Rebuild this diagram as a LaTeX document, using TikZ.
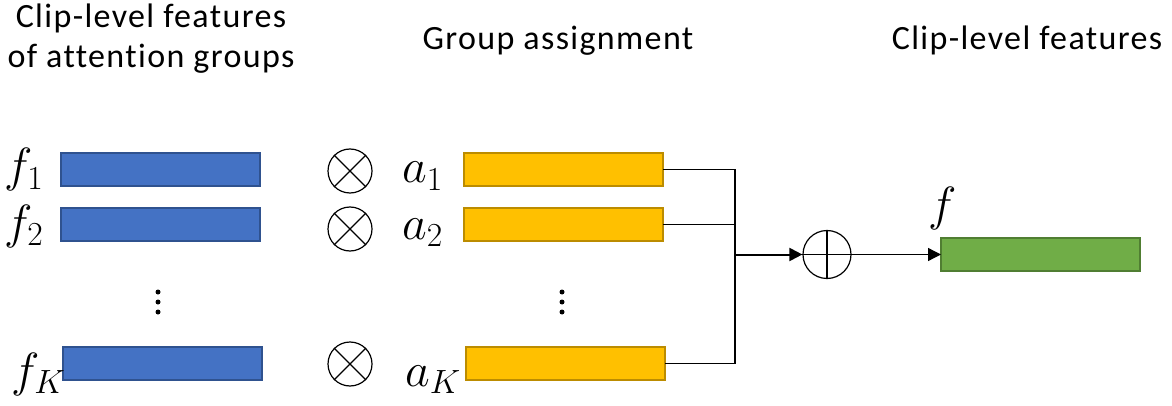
\RequirePackage{fix-cm}
\documentclass[tikz,border=0pt]{standalone}
\usepackage{fontspec}
\setmainfont{Carlito}[LetterSpace=4, Ligatures=NoCommon]
\usetikzlibrary{arrows.meta}
\definecolor{featblue}{RGB}{68,114,196}
\definecolor{featblueline}{RGB}{47,82,143}
\definecolor{asgyellow}{RGB}{255,192,0}
\definecolor{asgyellowline}{RGB}{188,140,0}
\definecolor{outgreen}{RGB}{112,173,71}
\definecolor{outgreenline}{RGB}{80,126,50}
\tikzset{
  x=1pt, y=-1pt,
  bar/.style={draw, line width=1.2pt, minimum width=199pt, minimum height=33pt,
    inner sep=0pt, outer sep=0pt, anchor=north west},
  bluebar/.style={bar, fill=featblue, draw=featblueline},
  yellowbar/.style={bar, fill=asgyellow, draw=asgyellowline},
  greenbar/.style={bar, fill=outgreen, draw=outgreenline},
  header/.style={font=\fontsize{34}{40}\selectfont, align=center, inner sep=0pt},
  mathlbl/.style={font=\fontsize{48}{56}\selectfont, inner sep=0pt},
  opcircle/.style={circle, draw, line width=1.2pt, minimum size=44pt, inner sep=0pt},
  wire/.style={line width=1.3pt},
  vdot/.style={circle, fill, inner sep=0pt, minimum size=5pt},
  tip/.style={-{Triangle[length=13pt,width=13pt]}}
}
\begin{document}
\begin{tikzpicture}
\useasboundingbox (0,0) rectangle (1172,406);

% column headers
\node[header, anchor=base] (h1a) at (151,28) {Clip-level features};
\node[header, anchor=base] (h1b) at (151,68) {of attention groups};
\node[header, anchor=base] (h2) at (558,50) {Group assignment};
\node[header, anchor=base] (h3) at (1027,50) {Clip-level features};

% clip-level features of the attention groups
\node[bluebar] (b1) at (61,153) {};
\node[bluebar] (b2) at (61,208) {};
\node[bluebar] (bK) at (63,347) {};
\node[mathlbl, anchor=base west] (lf1) at (4,182) {$f_1$};
\node[mathlbl, anchor=base west] (lf2) at (4,238) {$f_2$};
\node[mathlbl, anchor=base west] (lfK) at (11,386) {$f_K$};

% vertical ellipses
\node[vdot] (d1) at (158,292) {};
\node[vdot] (d2) at (158,302) {};
\node[vdot] (d3) at (158,312) {};
\node[vdot] (e1) at (562,292) {};
\node[vdot] (e2) at (562,302) {};
\node[vdot] (e3) at (562,312) {};

% multiplication operators
\foreach \n/\yy in {1/171, 2/229, K/364}{
  \node[opcircle] (m\n) at (350,\yy) {};
  \draw[line width=1.2pt] (m\n.north west) -- (m\n.south east)
                          (m\n.north east) -- (m\n.south west);
}

% group assignment weights
\node[yellowbar] (y1) at (464,153) {};
\node[yellowbar] (y2) at (464,208) {};
\node[yellowbar] (yK) at (466,347) {};
\node[mathlbl, anchor=base west] (la1) at (402,183) {$a_1$};
\node[mathlbl, anchor=base west] (la2) at (402,239) {$a_2$};
\node[mathlbl, anchor=base west] (laK) at (405,386) {$a_K$};

% summation
\node[opcircle, minimum size=48pt] (sum) at (827,254.5) {};
\draw[line width=1.2pt] (sum.north) -- (sum.south) (sum.west) -- (sum.east);
\coordinate (jm) at (735,254.5);
\draw[wire] (y1.east) -| (jm);
\draw[wire] (y2.east) -| (jm);
\draw[wire] (yK.east) -| (jm);
\draw[wire, line width=2pt, tip] (jm) -- (sum.west);

% aggregated clip-level feature
\node[greenbar] (g) at (941,238) {};
\node[mathlbl, anchor=base west] (lf) at (928,221) {$f$};
\draw[wire, tip] (sum.east) -- (sum.east -| g.west);
\end{tikzpicture}
\end{document}
